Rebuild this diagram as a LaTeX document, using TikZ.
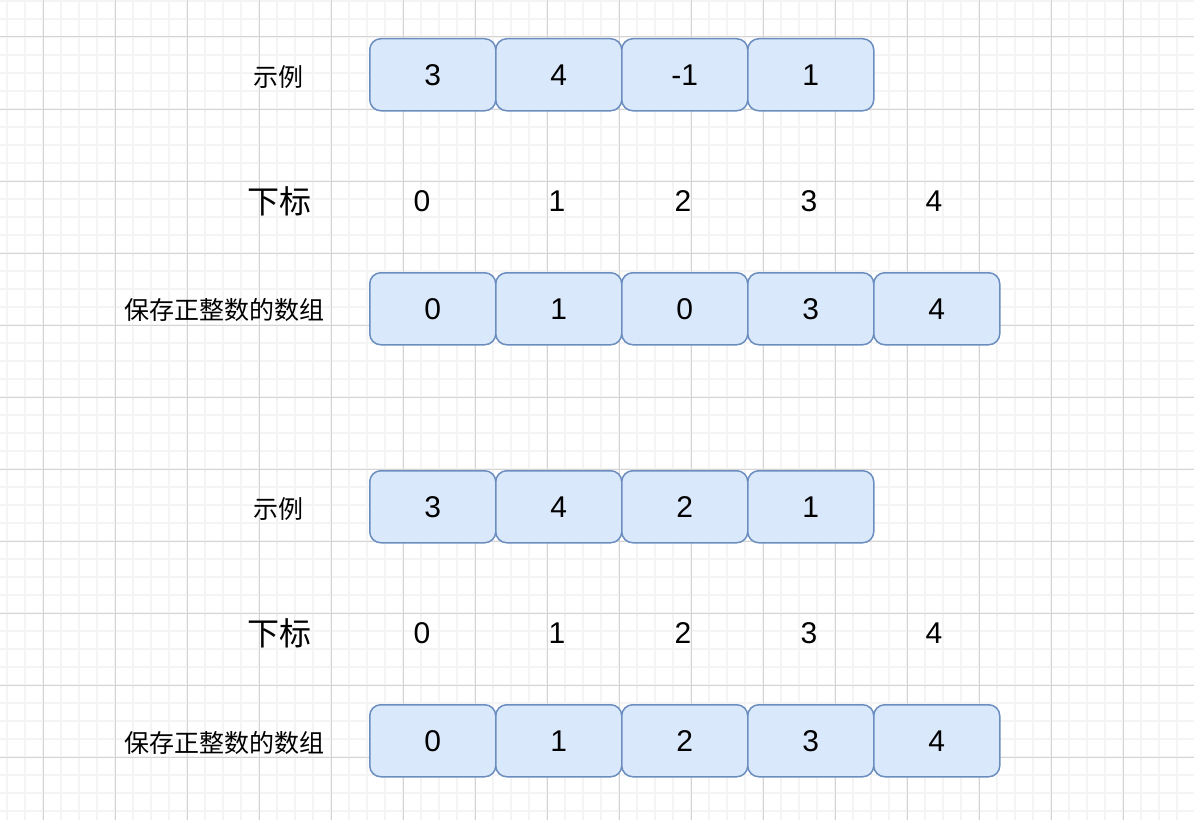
\documentclass[tikz,border=0pt]{standalone}
\usepackage{fontspec}
\setmainfont{Liberation Sans}
\newfontfamily\cjk{Noto Sans CJK SC}
\definecolor{boxfill}{HTML}{DAE8FC}
\definecolor{boxdraw}{HTML}{6C8EBF}
\definecolor{minorgrid}{HTML}{F4F4F4}
\definecolor{majorgrid}{HTML}{D4D4D4}
\tikzset{
  cell/.style={draw=boxdraw, fill=boxfill, line width=1.5bp, rounded corners=11bp,
    minimum width=126bp, minimum height=72bp, inner sep=0pt, anchor=north west,
    font=\fontsize{30bp}{32bp}\selectfont},
  idx/.style={inner sep=0pt, font=\fontsize{30bp}{32bp}\selectfont},
  lbl/.style={inner sep=0pt, font=\cjk\fontsize{25bp}{28bp}\selectfont},
  biglbl/.style={inner sep=0pt, font=\cjk\fontsize{32bp}{34bp}\selectfont},
}
\begin{document}
\begin{tikzpicture}[x=1bp,y=-1bp]
\useasboundingbox (0,0) rectangle (1194,820);
\fill[white] (0,0) rectangle (1194,820);
% minor grid
\foreach \x in {7,25,...,1194} \draw[minorgrid, line width=1.2bp] (\x,0) -- (\x,820);
\foreach \y in {1,19,...,820} \draw[minorgrid, line width=1.2bp] (0,\y) -- (1194,\y);
% major grid
\foreach \x in {43,115,...,1194} \draw[majorgrid, line width=1bp] (\x,0) -- (\x,820);
\foreach \y in {37,109,...,820} \draw[majorgrid, line width=1bp] (0,\y) -- (1194,\y);

% ---------- first example ----------
\node[lbl] (ex1) at (278,77) {示例};
\node[cell] (a1) at (369,38) {3};
\node[cell] (a2) at (495,38) {4};
\node[cell] (a3) at (621,38) {-1};
\node[cell] (a4) at (747,38) {1};

\node[biglbl] (ix1) at (279,201) {下标};
\node[idx] (i10) at (422,201) {0};
\node[idx] (i11) at (557,201) {1};
\node[idx] (i12) at (683,201) {2};
\node[idx] (i13) at (809,201) {3};
\node[idx] (i14) at (934,201) {4};

\node[lbl] (arr1) at (224,310) {保存正整数的数组};
\node[cell] (b1) at (369,272) {0};
\node[cell] (b2) at (495,272) {1};
\node[cell] (b3) at (621,272) {0};
\node[cell] (b4) at (747,272) {3};
\node[cell] (b5) at (873,272) {4};

% ---------- second example ----------
\node[lbl] (ex2) at (278,509) {示例};
\node[cell] (c1) at (369,470) {3};
\node[cell] (c2) at (495,470) {4};
\node[cell] (c3) at (621,470) {2};
\node[cell] (c4) at (747,470) {1};

\node[biglbl] (ix2) at (279,633) {下标};
\node[idx] (i20) at (422,633) {0};
\node[idx] (i21) at (557,633) {1};
\node[idx] (i22) at (683,633) {2};
\node[idx] (i23) at (809,633) {3};
\node[idx] (i24) at (934,633) {4};

\node[lbl] (arr2) at (224,743) {保存正整数的数组};
\node[cell] (d1) at (369,704) {0};
\node[cell] (d2) at (495,704) {1};
\node[cell] (d3) at (621,704) {2};
\node[cell] (d4) at (747,704) {3};
\node[cell] (d5) at (873,704) {4};
\end{tikzpicture}
\end{document}
